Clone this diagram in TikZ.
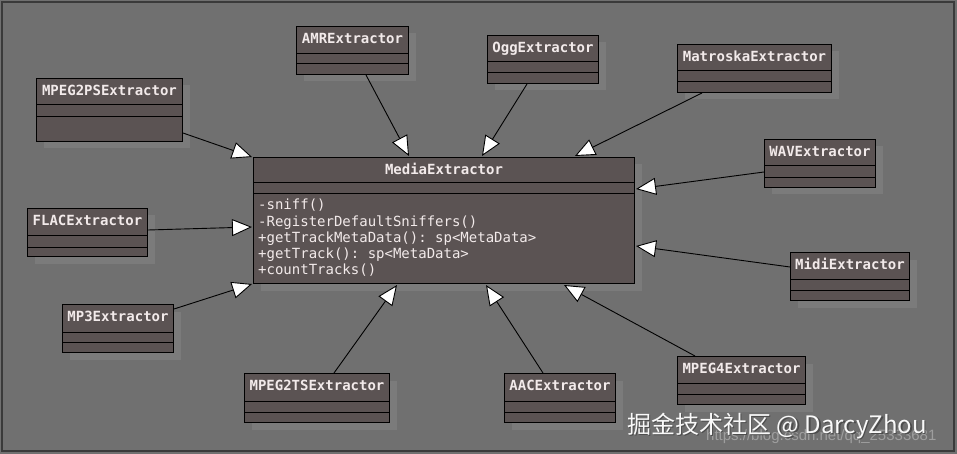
\documentclass[tikz,border=0pt]{standalone}
\usepackage{fontspec}
\setmonofont{DejaVu Sans Mono}
\newfontfamily\cjkfont{Noto Sans CJK SC}
\newfontfamily\urlfont{Liberation Sans}
\usetikzlibrary{arrows.meta,calc,shadows}
\definecolor{bgc}{HTML}{707070}
\definecolor{framec}{HTML}{3A3A3A}
\definecolor{boxfill}{HTML}{5B5353}
\definecolor{shadowc}{HTML}{7B7B7B}
\definecolor{txtc}{HTML}{F2EAEA}
\tikzset{
  umlbox/.style={draw=black, line width=1pt, fill=boxfill, inner sep=0pt, anchor=north west,
    drop shadow={shadow xshift=7pt, shadow yshift=-7pt, fill=shadowc, opacity=1}},
  umltitle/.style={anchor=base, inner sep=0pt, text=txtc, font=\ttfamily\bfseries\fontsize{14}{16}\selectfont},
  umlmeth/.style={anchor=base west, inner sep=0pt, text=txtc, font=\ttfamily\fontsize{14}{16}\selectfont},
  sepline/.style={draw=black, line width=1pt},
  inh/.style={draw=black, line width=0.9pt, -{Triangle[open, fill=white, length=20pt, width=17pt]}}
}
\newcommand\umlclass[8]{%
  \node[umlbox, minimum width=#4pt, minimum height=#5pt] (#1) at (#2,#3) {};
  \node[umltitle] (#1-t) at ($(#1.north)+(0,17.5)$) {#6};
  \draw[sepline] ($(#1.north west)+(0,#7)$) -- ($(#1.north east)+(0,#7)$);
  \draw[sepline] ($(#1.north west)+(0,#8)$) -- ($(#1.north east)+(0,#8)$);
}
\begin{document}
\begin{tikzpicture}[x=1pt,y=-1pt]
\useasboundingbox (0,0) rectangle (957,454);
\fill[bgc] (0,0) rectangle (957,454);
\draw[framec, line width=1.5pt] (2,2) rectangle (954,451);

\umlclass{me}{253}{157}{381}{126}{MediaExtractor}{26}{37}
\node[umlmeth] (m1) at (258,210) {-sniff()};
\node[umlmeth] (m2) at (258,226) {-RegisterDefaultSniffers()};
\node[umlmeth] (m3) at (258,242) {+getTrackMetaData(): sp<MetaData>};
\node[umlmeth] (m4) at (258,258) {+getTrack(): sp<MetaData>};
\node[umlmeth] (m5) at (258,274) {+countTracks()};

\umlclass{mp2ps}{36}{78}{146}{63}{MPEG2PSExtractor}{27}{39}
\umlclass{amr}{296}{26}{112}{48}{AMRExtractor}{28}{38}
\umlclass{ogg}{487}{35}{111}{48}{OggExtractor}{27}{38}
\umlclass{mkv}{677}{44}{154}{48}{MatroskaExtractor}{27}{38}
\umlclass{wav}{764}{139}{111}{48}{WAVExtractor}{27}{39}
\umlclass{flac}{27}{208}{120}{48}{FLACExtractor}{27}{39}
\umlclass{midi}{790}{252}{119}{48}{MidiExtractor}{27}{38}
\umlclass{mp3}{62}{304}{111}{48}{MP3Extractor}{28}{38}
\umlclass{mp4}{677}{356}{128}{48}{MPEG4Extractor}{27}{38}
\umlclass{ts}{244}{373}{145}{49}{MPEG2TSExtractor}{28}{39}
\umlclass{aac}{504}{373}{111}{49}{AACExtractor}{28}{39}

\draw[inh] ($(mp2ps.north east)+(0,55)$) -- ($(me.north west)+(-1,0)$);
\draw[inh] ($(amr.south west)+(70,0)$) -- ($(me.north west)+(156,-1)$);
\draw[inh] ($(ogg.south west)+(40,0)$) -- ($(me.north west)+(229,-1)$);
\draw[inh] ($(mkv.south west)+(25,0)$) -- ($(me.north west)+(322,-1)$);
\draw[inh] ($(wav.north west)+(0,33)$) -- ($(me.north east)+(1,32)$);
\draw[inh] ($(flac.north east)+(0,22)$) -- ($(me.north west)+(-1,70)$);
\draw[inh] ($(midi.north west)+(0,15)$) -- ($(me.north east)+(1,89)$);
\draw[inh] ($(mp3.north east)+(0,5)$) -- ($(me.south west)+(-1,0)$);
\draw[inh] ($(ts.north west)+(90,0)$) -- ($(me.south west)+(144,1)$);
\draw[inh] ($(aac.north west)+(39,0)$) -- ($(me.south west)+(233,1)$);
\draw[inh] ($(mp4.north west)+(18,0)$) -- ($(me.south west)+(311,1)$);

\node[anchor=base west, inner sep=0pt, text=gray!60!white, opacity=0.7, font=\urlfont\fontsize{15}{15}\selectfont] (url) at (706,440) {https://blog.csdn.net/qq\_25333681};
\node[anchor=base west, inner sep=0pt, text=black!70, font=\cjkfont\fontsize{24}{24}\selectfont] (wmshadow) at (628.5,434.5) {掘金技术社区 @ DarcyZhou};
\node[anchor=base west, inner sep=0pt, text=white!95!gray, font=\cjkfont\fontsize{24}{24}\selectfont] (wm) at (627,433) {掘金技术社区 @ DarcyZhou};
\end{tikzpicture}
\end{document}
